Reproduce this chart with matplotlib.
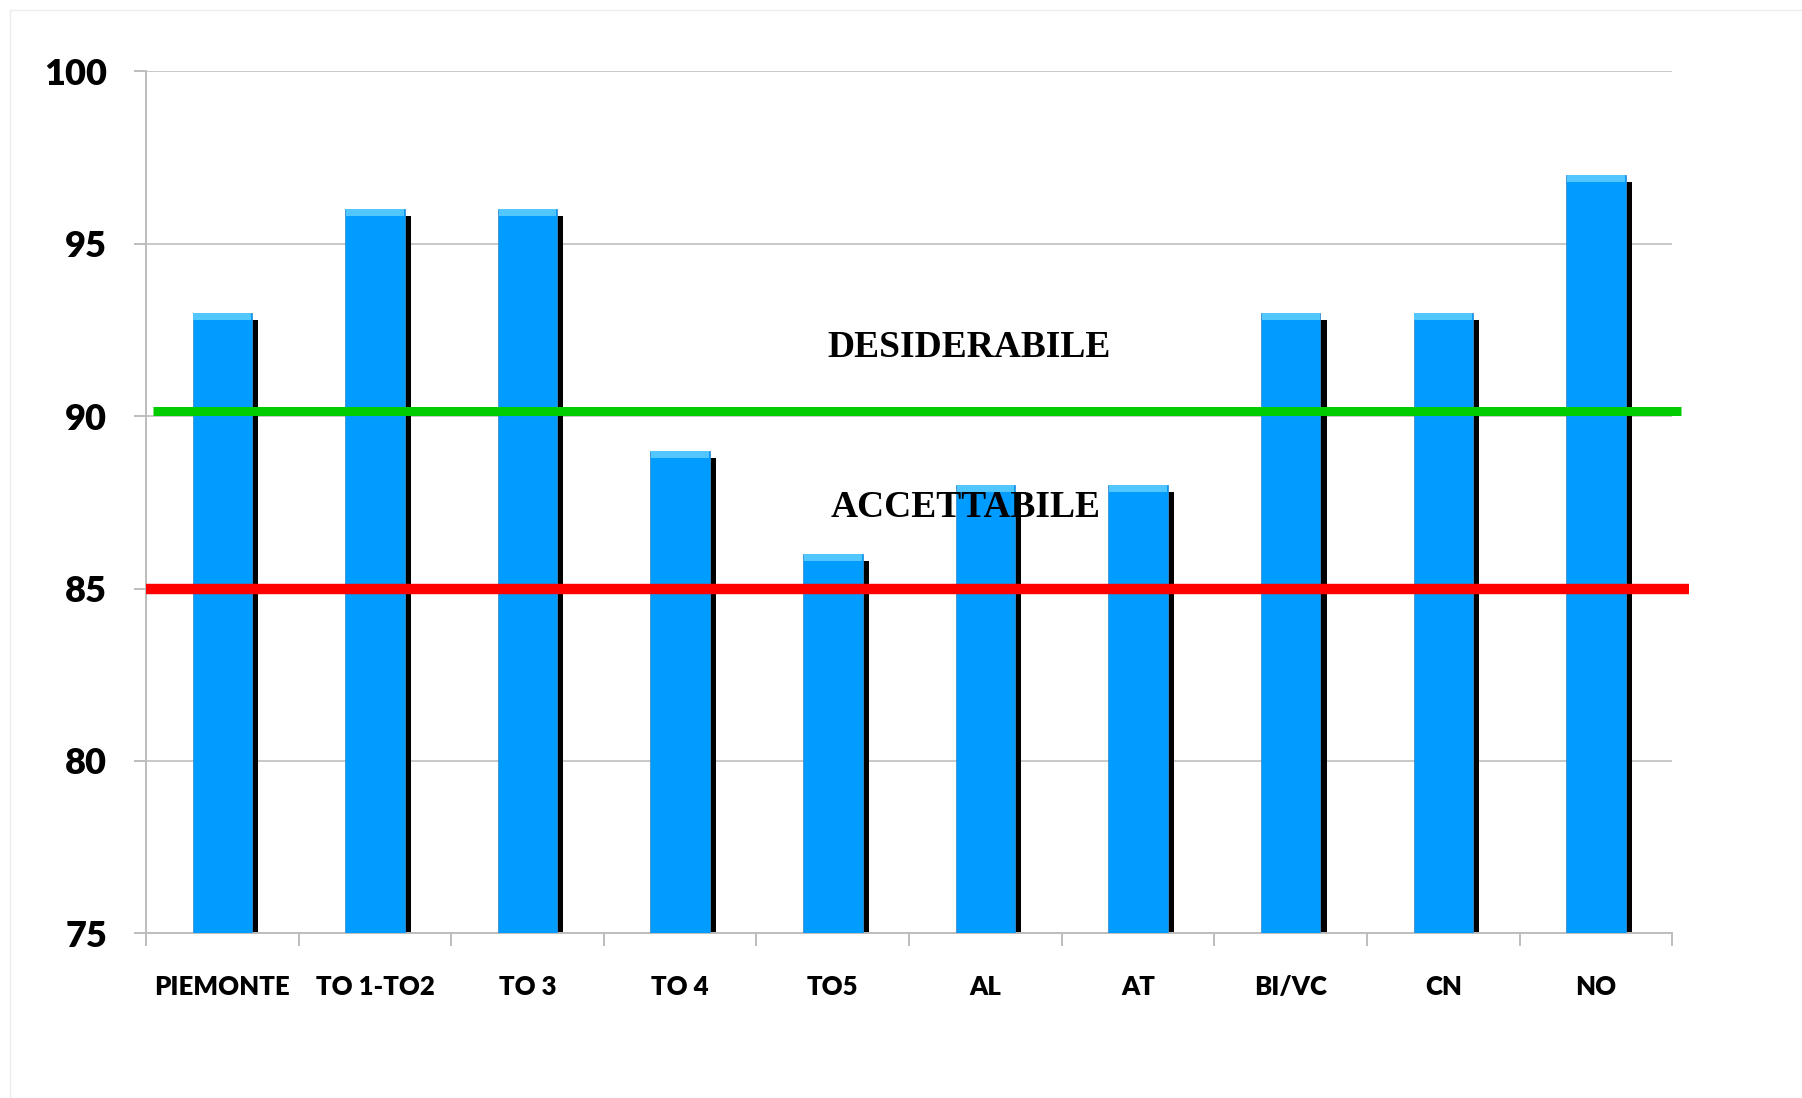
import matplotlib.pyplot as plt
import numpy as np

# data
categories = ['PIEMONTE', 'TO 1-TO2', 'TO 3', 'TO 4', 'TO5', 'AL', 'AT', 'BI/VC', 'CN', 'NO']
values = [93, 96, 96, 89, 86, 88, 88, 93, 93, 97]
desiderabile = 90.15
accettabile = 85.0
y_ticks = [75, 80, 85, 90, 95, 100]

x = np.arange(len(categories))
vals = np.array(values, dtype=float)

fig = plt.figure(figsize=(18.02, 10.98), dpi=100)
ax = fig.add_axes([0.081, 0.150, 0.847, 0.785])

# faint border of the original slide frame
fig.add_artist(plt.Line2D([10 / 1802, 10 / 1802], [0, 1 - 10 / 1098], color='#ececec', lw=1))
fig.add_artist(plt.Line2D([10 / 1802, 1], [1 - 10 / 1098, 1 - 10 / 1098], color='#ececec', lw=1))

bar_w = 0.39
# black shadow behind each bar
ax.bar(x + 0.04, vals - 0.2, width=bar_w, color='black', zorder=2)
ax.bar(x, vals, width=bar_w, color='#009cff', edgecolor='#3a8fd0', linewidth=0.6, zorder=3)
# lighter bevel at the top of the bars
ax.bar(x, 0.2, bottom=vals - 0.2, width=bar_w * 0.97, color='#52c6ff', zorder=4)

# threshold lines
ax.plot([-0.455, 9.56], [desiderabile, desiderabile], color='#00cc00', lw=6.5,
        solid_capstyle='butt', clip_on=False, zorder=5)
ax.plot([-0.5, 9.61], [accettabile, accettabile], color='#ff0000', lw=7.5,
        solid_capstyle='butt', clip_on=False, zorder=5)

ax.text(4.89, 92.0, 'DESIDERABILE', family='Liberation Serif', weight='bold',
        fontsize=27, ha='center', va='center', zorder=6)
ax.text(4.87, 87.35, 'ACCETTABILE', family='Liberation Serif', weight='bold',
        fontsize=27, ha='center', va='center', zorder=6)

ax.set_xlim(-0.5, len(categories) - 0.5)
ax.set_ylim(75, 100)
ax.set_yticks(y_ticks)
ax.set_yticklabels([str(v) for v in y_ticks], family='Lato', weight='heavy', fontsize=26)
ax.set_xticks(x)
ax.set_xticklabels(categories, family='Lato', weight='heavy', fontsize=18.5)
ax.set_xticks(np.arange(len(categories) + 1) - 0.5, minor=True)

ax.tick_params(axis='x', which='major', length=0, pad=30)
ax.tick_params(axis='x', which='minor', length=9, width=1.4, color='#bdbdbd')
ax.tick_params(axis='y', length=9, width=1.4, color='#bdbdbd', pad=19)

ax.yaxis.grid(True, color='#c8c8c8', lw=1.4)
ax.set_axisbelow(True)
for side in ['top', 'right']:
    ax.spines[side].set_visible(False)
for side in ['left', 'bottom']:
    ax.spines[side].set_color('#bdbdbd')
    ax.spines[side].set_linewidth(1.4)

plt.savefig('out.png', dpi=100)
